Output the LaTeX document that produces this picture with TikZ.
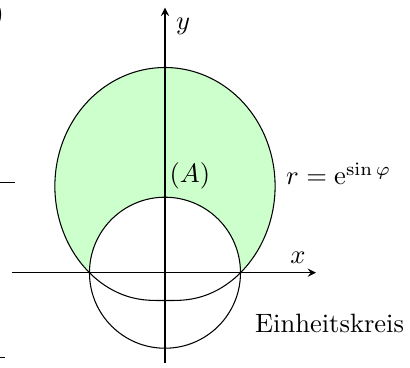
\documentclass[tikz,border=0pt]{standalone}
\usetikzlibrary{arrows}
\begin{document}
\begin{tikzpicture}[
        curve/.style={black, thin},
        axis/.style={-stealth, thin},
    ]
        \useasboundingbox (-2.185, -1.249) rectangle (3.245, 3.612);

        % area between curve and unit circle
        \fill[green!20] plot[domain=0:180, samples=120, smooth, variable=\t]
            ({exp(sin(\t))*cos(\t)}, {exp(sin(\t))*sin(\t)})
            arc (180:0:1) -- cycle;

        % curve and unit circle
        \draw[curve] plot[domain=0:360, samples=240, smooth cycle, variable=\t]
            ({exp(sin(\t))*cos(\t)}, {exp(sin(\t))*sin(\t)});
        \draw[curve] (0,0) circle (1);

        % axes
        \coordinate (x-from) at (-2.03, 0);
        \coordinate (x-to) at (2.0, 0);
        \coordinate (y-from) at (0, -1.19);
        \coordinate (y-to) at (0, 3.51);
        \draw[axis] (x-from) -- (x-to);
        \draw[axis] (y-from) -- (y-to);
        \node (x-label) at (1.76, 0.2) {$x$};
        \node (y-label) at (0.24, 3.26) {$y$};

        % labels
        \node (area) at (0.33, 1.28) {$(A)$};
        \node (curve-label) at (2.3, 1.31) {$r = \mathrm{e}^{\sin\varphi}$};
        \node (circle-label) at (2.18, -0.67) {Einheitskreis};

        % pieces of the neighbouring picture
        \node[anchor=east, inner sep=0pt] (cut-paren) at (-2.125, 3.42) {$)$};
        \coordinate (cut-a) at (-2.3, 1.19);
        \coordinate (cut-b) at (-1.99, 1.19);
        \coordinate (cut-c) at (-2.3, -1.12);
        \coordinate (cut-d) at (-2.12, -1.12);
        \draw (cut-a) -- (cut-b);
        \draw (cut-c) -- (cut-d);
    \end{tikzpicture}
\end{document}
